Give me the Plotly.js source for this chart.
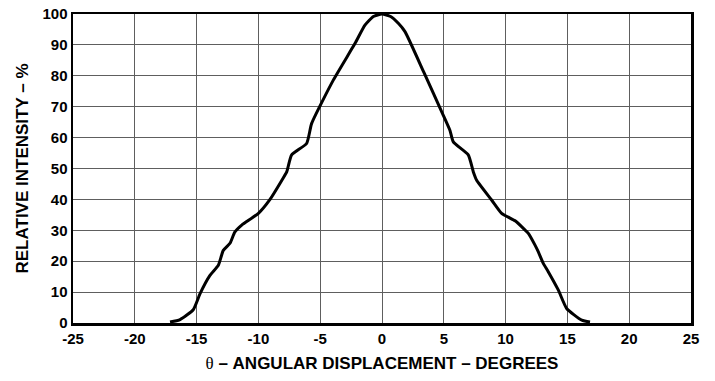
<!DOCTYPE html>
<html>
<head>
<meta charset="utf-8">
<script src="https://cdn.plot.ly/plotly-3.0.1.min.js"></script>
<style>html,body{margin:0;padding:0;background:#fff;}#chart{width:715px;height:381px;}</style>
</head>
<body>
<div id="chart"></div>
<script>
const angleDeg = [-17.15, -16.34, -15.27, -14.72, -13.92, -13.24, -12.84, -12.3, -11.9, -11.35, -10.0, -9.06, -8.1, -7.71, -7.31, -6.1, -5.69, -3.94, -2.18, -1.38, -0.7, 0.0, 0.7, 1.32, 1.86, 3.4, 4.96, 5.5, 5.77, 6.98, 7.39, 7.66, 8.87, 9.68, 10.8, 11.57, 11.84, 12.38, 12.65, 13.05, 13.45, 14.26, 14.94, 16.16, 16.83];
const intensity = [0.3, 1.1, 4.3, 9.5, 15.4, 18.7, 23.5, 25.8, 29.5, 31.7, 35.5, 40.0, 46.2, 48.9, 54.4, 58.1, 64.6, 78.6, 90.5, 96.4, 99.2, 100, 99.2, 97.0, 94.3, 81.0, 67.2, 62.3, 58.6, 54.4, 48.9, 46.2, 39.8, 35.5, 33.0, 30.1, 29.0, 25.2, 23.0, 19.3, 16.6, 10.7, 4.7, 0.9, 0.3];
const xTicks = [-25, -20, -15, -10, -5, 0, 5, 10, 15, 20, 25];
const yTicks = [0, 10, 20, 30, 40, 50, 60, 70, 80, 90, 100];

const fontFam = 'Liberation Sans, Arial, sans-serif';
Plotly.newPlot('chart', [{
  x: angleDeg, y: intensity, type: 'scatter', mode: 'lines',
  line: {color: '#000', width: 3, shape: 'spline', smoothing: 0.5},
  hoverinfo: 'skip'
}], {
  width: 715, height: 381,
  margin: {l: 73, r: 24, t: 14, b: 58},
  paper_bgcolor: '#fff', plot_bgcolor: '#fff',
  showlegend: false,
  font: {family: fontFam, color: '#000'},
  xaxis: {
    range: [-25, 25], tickvals: xTicks, ticktext: xTicks.map(v => '<b>' + v + '</b>'),
    showgrid: true, gridcolor: '#5e5e5e', gridwidth: 1,
    zeroline: false, showline: true, linecolor: '#000', linewidth: 2.5, mirror: true,
    ticks: '', tickfont: {family: fontFam, size: 15, color: '#000', weight: 700},
    title: {text: '<span style="font-family:Liberation Serif, serif;font-weight:normal">θ</span><b> – ANGULAR DISPLACEMENT – DEGREES</b>', font: {family: fontFam, size: 17, color: '#000'}, standoff: 12}
  },
  yaxis: {
    range: [0, 100], tickvals: yTicks, ticktext: yTicks.map(v => '<b>' + v + '</b>'),
    showgrid: true, gridcolor: '#5e5e5e', gridwidth: 1,
    zeroline: false, showline: true, linecolor: '#000', linewidth: 2.5, mirror: true,
    ticks: '', tickfont: {family: fontFam, size: 15, color: '#000', weight: 700},
    title: {text: '<b>RELATIVE INTENSITY – %</b>', font: {family: fontFam, size: 17, color: '#000'}, standoff: 10}
  }
}, {displayModeBar: false, staticPlot: true});
</script>
</body>
</html>
